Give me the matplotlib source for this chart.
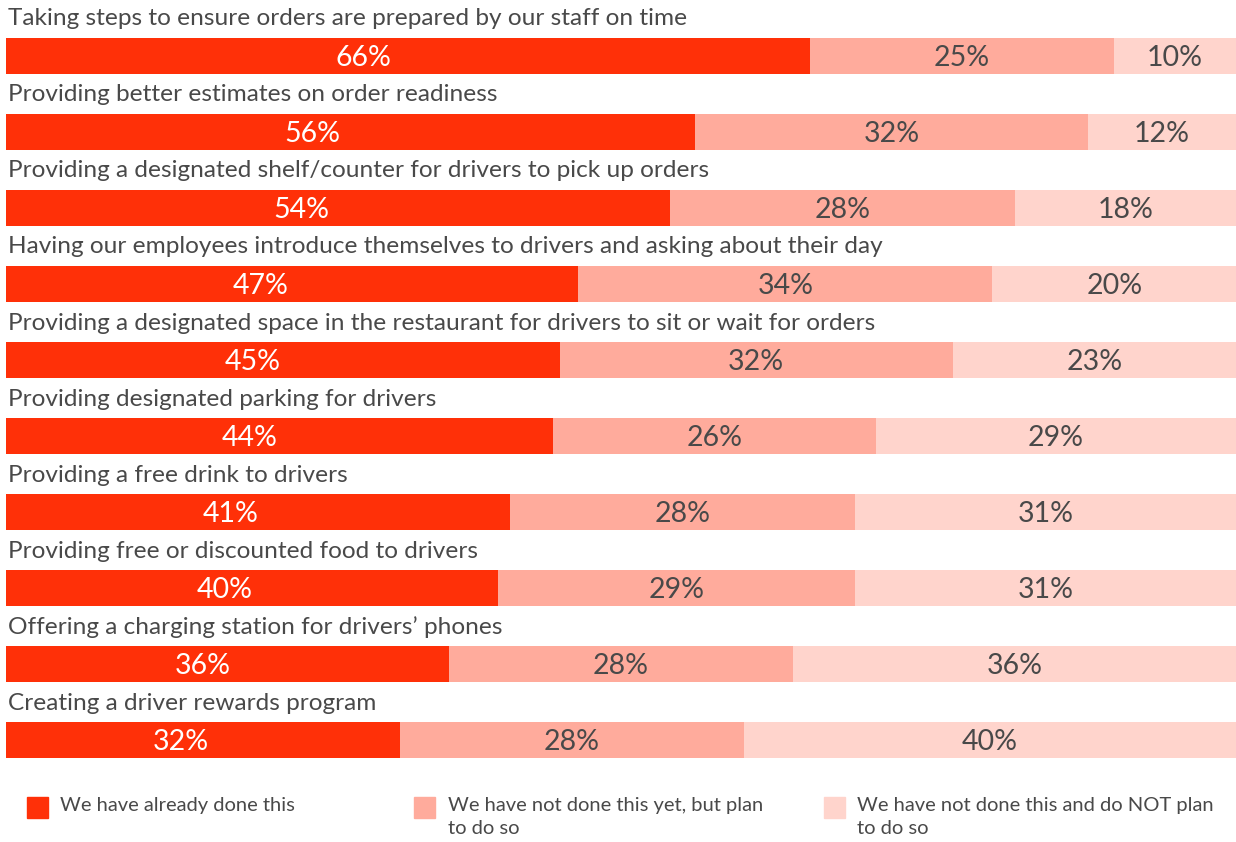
import matplotlib
matplotlib.use("Agg")
import matplotlib.pyplot as plt
from matplotlib.patches import Rectangle
import numpy as np

categories = [
    "Taking steps to ensure orders are prepared by our staff on time",
    "Providing better estimates on order readiness",
    "Providing a designated shelf/counter for drivers to pick up orders",
    "Having our employees introduce themselves to drivers and asking about their day",
    "Providing a designated space in the restaurant for drivers to sit or wait for orders",
    "Providing designated parking for drivers",
    "Providing a free drink to drivers",
    "Providing free or discounted food to drivers",
    "Offering a charging station for drivers\u2019 phones",
    "Creating a driver rewards program",
]
done = [66, 56, 54, 47, 45, 44, 41, 40, 36, 32]
plan = [25, 32, 28, 34, 32, 26, 28, 29, 28, 28]
not_plan = [10, 12, 18, 20, 23, 29, 31, 31, 36, 40]
series_names = [
    "We have already done this",
    "We have not done this yet, but plan\nto do so",
    "We have not done this and do NOT plan\nto do so",
]

colors = ["#FF3008", "#FFAB9C", "#FFD4CC"]
text_colors = ["white", "#494949", "#494949"]
label_anchor = [0.445, 0.5, 0.5]  # relative position of value label inside segment
plt.rcParams["font.family"] = ["Lato", "DejaVu Sans"]

W, H = 1236, 842
fig = plt.figure(figsize=(W / 100, H / 100), dpi=100)
ax = fig.add_axes([6 / W, 1 - 758 / H, 1230 / W, 720 / H])

data = np.array([done, plan, not_plan], dtype=float)
totals = data.sum(axis=0)
frac = data / totals
n = len(categories)
y = np.arange(n)
h = 36 / 76

left = np.zeros(n)
for k in range(3):
    ax.barh(y, frac[k], left=left, height=h, color=colors[k], edgecolor="none")
    for i in range(n):
        ax.text(left[i] + frac[k][i] * label_anchor[k], y[i] + 0.03, f"{int(data[k][i])}%",
                ha="center", va="center", fontsize=20.5,
                color=text_colors[k])
    left = left + frac[k]

for i in range(n):
    ax.text(2 / 1230, y[i] - h / 2 - 0.25, categories[i], ha="left", va="center",
            fontsize=17.6, color="#494949")

ax.set_xlim(0, 1)
ax.set_ylim(n - 1 + h / 2, -h / 2)
ax.axis("off")

# legend
leg_x = [27, 414, 824]
leg_tx = [60, 448, 857]
for k in range(3):
    fig.patches.append(Rectangle((leg_x[k] / W, 1 - 818 / H), 21 / W, 21 / H,
                                 transform=fig.transFigure, color=colors[k]))
    fig.text(leg_tx[k] / W, 1 - 797 / H, series_names[k], ha="left", va="top",
             fontsize=14.5, color="#494949", linespacing=1.42)

fig.savefig("out.png", dpi=100)
